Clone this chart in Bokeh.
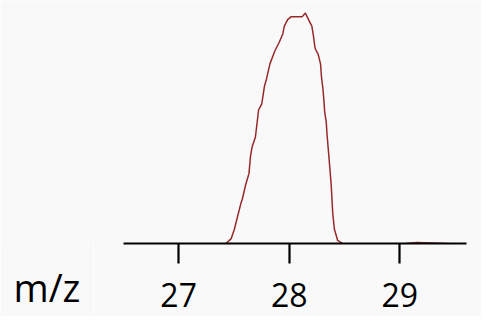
from bokeh.plotting import figure
from bokeh.layouts import row
from bokeh.models import LinearAxis, FixedTicker, Range1d
from bokeh.embed import file_html
from bokeh.resources import INLINE

# spectrum trace (m/z, relative intensity %)
mz = [26.684, 27.244, 27.384, 27.428, 27.475, 27.504, 27.533, 27.562, 27.577, 27.606,
      27.636, 27.650, 27.665, 27.694, 27.708, 27.723, 27.752, 27.776, 27.796, 27.825,
      27.869, 27.912, 27.942, 27.956, 27.986, 28.015, 28.117, 28.146, 28.175, 28.205,
      28.219, 28.234, 28.263, 28.284, 28.292, 28.306, 28.315, 28.321, 28.336, 28.342,
      28.359, 28.380, 28.394, 28.409, 28.438, 28.482, 28.555, 28.628, 28.891, 29.153,
      29.416, 29.740]
intensity = [-0.8, -0.8, -0.4, 0.0, 2.1, 6.2, 11.7, 17.2, 19.4, 25.5,
             30.3, 37.9, 42.0, 46.1, 51.7, 57.9, 60.6, 68.2, 71.6, 77.8,
             83.4, 87.5, 90.9, 94.3, 97.1, 98.3, 98.3, 100.0, 97.1, 94.3,
             90.2, 84.7, 81.9, 77.8, 72.3, 66.8, 61.3, 57.2, 52.3, 47.5,
             37.9, 25.5, 13.1, 6.2, 1.4, 0.0, -0.7, -1.1, -0.8, 0.4,
             0.0, -0.8]
tick_values = [27, 28, 29]
tick_labels = ["27", "28", "29"]
axis_title = "m/z"
axis_title_pos = 25.808   # where the title sits along the m/z scale

BG = "#f9f9f9"

# left strip carrying the axis title, on the same m/z scale
left = figure(width=93, height=316, output_backend="svg", toolbar_location=None,
              x_range=Range1d(25.388, 26.2294), y_range=Range1d(0, 105.4),
              x_axis_location=None, y_axis_location=None,
              min_border_left=0, min_border_right=0, min_border_top=0, min_border_bottom=73,
              background_fill_color=BG, border_fill_color=BG, outline_line_color=None)
left.grid.visible = False
title_axis = LinearAxis(ticker=FixedTicker(ticks=[axis_title_pos]),
                        major_label_overrides={axis_title_pos: axis_title},
                        axis_line_color=None, major_tick_line_color=None,
                        minor_tick_line_color=None, major_tick_in=0, major_tick_out=0,
                        major_label_standoff=17,
                        major_label_text_font="Open Sans", major_label_text_font_size="38px",
                        major_label_text_color="black")
left.add_layout(title_axis, "below")

# main spectrum plot
p = figure(width=388, height=316, output_backend="svg", toolbar_location=None,
           x_range=Range1d(26.2294, 29.740), y_range=Range1d(0, 105.4),
           x_axis_location=None, y_axis_location=None,
           min_border_left=0, min_border_right=0, min_border_top=0, min_border_bottom=73,
           background_fill_color=BG, border_fill_color=BG, outline_line_color=None)
p.grid.visible = False

p.line(mz, intensity, line_color="#962a2a", line_width=1.5)

ax = LinearAxis(ticker=FixedTicker(ticks=tick_values), bounds=(26.5, 29.6),
                axis_line_color="black", axis_line_width=2.2,
                major_tick_line_color="black", major_tick_line_width=2.2,
                major_tick_in=0, major_tick_out=20,
                minor_tick_line_color=None,
                major_label_overrides={v: t for v, t in zip(tick_values, tick_labels)},
                major_label_standoff=19,
                major_label_text_font="Open Sans", major_label_text_font_size="32px",
                major_label_text_color="black")
p.add_layout(ax, "below")

layout = row(left, p, spacing=0)
open("out.html", "w").write(file_html(layout, INLINE))
